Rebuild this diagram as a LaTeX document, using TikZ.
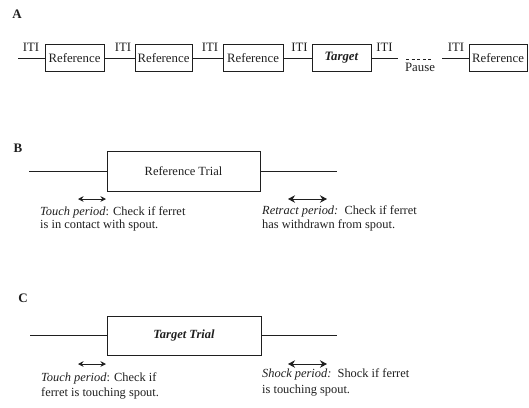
\documentclass[tikz,border=0pt]{standalone}
\usepackage{fontspec}
\setmainfont{Liberation Serif}
\usetikzlibrary{arrows.meta}
\begin{document}
\begin{tikzpicture}[x=1pt,y=-1pt,
  ink/.style={black!88},
  line/.style={ink, line width=0.8pt},
  abox/.style={draw=black!88, line width=0.8pt, minimum height=27pt, inner sep=0pt, text=black!88, font=\fontsize{12.8}{14}\selectfont},
  tbox/.style={draw=black!88, line width=0.8pt, minimum width=153pt, minimum height=40pt, inner sep=0pt, text=black!88, font=\fontsize{12.5}{14}\selectfont},
  iti/.style={anchor=base, inner sep=0pt, text=black!88, font=\fontsize{12.8}{14}\selectfont},
  desc/.style={anchor=base west, inner sep=0pt, text=black!88, font=\fontsize{12.4}{14}\selectfont},
  panel/.style={inner sep=0pt, text=black!88, font=\fontsize{13}{14}\selectfont\bfseries},
  smallarr/.style={line, {Stealth[length=5.5pt,width=5.5pt]}-{Stealth[length=5.5pt,width=5.5pt]}},
  bigarr/.style={line, line width=1pt, {Stealth[length=7pt,width=7.5pt]}-{Stealth[length=7pt,width=7.5pt]}}
]
\useasboundingbox (0,0) rectangle (529,407);

% ---------- Panel A ----------
\node[panel] (lA) at (17,14) {A};
\coordinate (a0) at (18,58);
\node[abox, minimum width=59pt] (r1) at (74.5,58) {Reference};
\node[abox, minimum width=57pt] (r2) at (163.5,58) {Reference};
\node[abox, minimum width=60pt] (r3) at (253,58) {Reference};
\node[abox, minimum width=59pt] (tg) at (341.5,58) {\textbf{\textit{Target}}};
\coordinate (a1) at (398,58);
\coordinate (p0) at (406,59);
\coordinate (p1) at (433,59);
\coordinate (a2) at (442,58);
\node[abox, minimum width=58pt] (r4) at (498,58) {Reference};

\draw[line] (a0) -- (r1.west);
\draw[line] (r1.east) -- (r2.west);
\draw[line] (r2.east) -- (r3.west);
\draw[line] (r3.east) -- (tg.west);
\draw[line] (tg.east) -- (a1);
\draw[line, line width=0.6pt, dash pattern=on 3pt off 2.6pt] (p0) -- (p1);
\draw[line] (a2) -- (r4.west);

\node[iti] (i1) at (31,51.5) {ITI};
\node[iti] (i2) at (123,51.5) {ITI};
\node[iti] (i3) at (210,51.5) {ITI};
\node[iti] (i4) at (299.5,51.5) {ITI};
\node[iti] (i5) at (384.5,51.5) {ITI};
\node[iti] (i6) at (456,51.5) {ITI};
\node[iti] (ps) at (420,71) {Pause};

% ---------- Panel B ----------
\node[panel] (lB) at (18,148) {B};
\coordinate (b0) at (29,171);
\node[tbox] (rt) at (183.5,171) {Reference Trial};
\coordinate (b1) at (337,171);
\draw[line] (b0) -- (rt.west);
\draw[line] (rt.east) -- (b1);

\coordinate (bl0) at (78,199);
\coordinate (bl1) at (106,199);
\draw[smallarr] (bl0) -- (bl1);
\coordinate (br0) at (288,199);
\coordinate (br1) at (327,199);
\draw[bigarr] (br0) -- (br1);

\node[desc] (bt1) at (40,215) {\textit{Touch period}: Check if ferret};
\node[desc] (bt2) at (40,228.5) {is in contact with spout.};
\node[desc] (bs1) at (262,214) {\textit{Retract period:}\ \ Check if ferret};
\node[desc] (bs2) at (262,228) {has withdrawn from spout.};

% ---------- Panel C ----------
\node[panel] (lC) at (23,298) {C};
\coordinate (c0) at (30,335.5);
\node[tbox, minimum width=154pt, minimum height=39pt] (tt) at (184,335.5) {\textbf{\textit{Target Trial}}};
\coordinate (c1) at (337,335.5);
\draw[line] (c0) -- (tt.west);
\draw[line] (tt.east) -- (c1);

\coordinate (cl0) at (78,364);
\coordinate (cl1) at (106,364);
\draw[smallarr] (cl0) -- (cl1);
\coordinate (cr0) at (288,364);
\coordinate (cr1) at (327,364);
\draw[bigarr] (cr0) -- (cr1);

\node[desc] (ct1) at (41,381) {\textit{Touch period}: Check if};
\node[desc] (ct2) at (41,396) {ferret is touching spout.};
\node[desc] (cs1) at (262,377) {\textit{Shock period:}\ \ Shock if ferret};
\node[desc] (cs2) at (262,393) {is touching spout.};
\end{tikzpicture}
\end{document}
